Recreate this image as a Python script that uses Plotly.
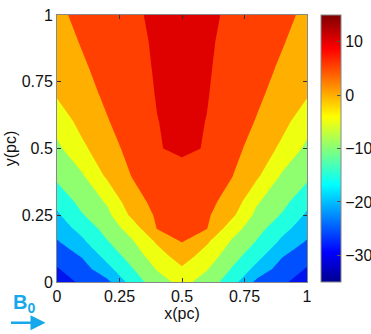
import plotly.graph_objects as go

# grid of the filled-contour map (pc)
x_pc = [0.0, 0.1, 0.2, 0.3, 0.4, 0.5, 0.6, 0.7, 0.8, 0.9, 1.0]
y_pc = [0.0, 0.05, 0.1, 0.15, 0.2, 0.25, 0.3, 0.4, 0.5, 0.6, 0.7, 0.8, 0.9, 1.0]

# field values, one row per y_pc (bottom to top)
field = [
    [-27.0, -24.3, -21.3, -12.9, -7.1, -3.5, -7.1, -12.9, -21.3, -24.3, -27.0],
    [-25.3, -22.1, -16.5, -10.3, -4.6, -0.6, -4.6, -10.3, -16.5, -22.1, -25.3],
    [-23.0, -19.5, -13.1, -7.7, -2.2, 2.7, -2.2, -7.7, -13.1, -19.5, -23.0],
    [-20.5, -16.0, -10.4, -5.6, 0.6, 5.1, 0.6, -5.6, -10.4, -16.0, -20.5],
    [-17.7, -13.4, -8.1, -2.8, 5.1, 6.5, 5.1, -2.8, -8.1, -13.4, -17.7],
    [-15.8, -10.4, -6.3, 1.0, 5.7, 7.4, 5.7, 1.0, -6.3, -10.4, -15.8],
    [-13.7, -8.4, -4.5, 3.1, 6.3, 8.2, 6.3, 3.1, -4.5, -8.4, -13.7],
    [-8.6, -5.5, 0.9, 5.2, 7.3, 9.4, 7.3, 5.2, 0.9, -5.5, -8.6],
    [-6.1, -1.0, 3.1, 6.5, 9.9, 10.3, 9.9, 6.5, 3.1, -1.0, -6.1],
    [-2.9, 1.5, 4.7, 7.3, 9.9, 11.1, 9.9, 7.3, 4.7, 1.5, -2.9],
    [0.4, 3.2, 5.8, 8.0, 10.2, 11.9, 10.2, 8.0, 5.8, 3.2, 0.4],
    [1.9, 4.4, 6.5, 8.5, 10.4, 12.7, 10.4, 8.5, 6.5, 4.4, 1.9],
    [3.2, 5.3, 7.1, 8.8, 10.6, 13.5, 10.6, 8.8, 7.1, 5.3, 3.2],
    [4.2, 6.0, 7.6, 9.2, 10.9, 14.3, 10.9, 9.2, 7.6, 6.0, 4.2],
]

level_start, level_end, level_step = -30, 15, 5
cbar_min, cbar_max = -35, 15
cbar_ticks = [-30, -20, -10, 0, 10]
axis_ticks = [0, 0.25, 0.5, 0.75, 1]
axis_ticktext = ["0", "0.25", "0.5", "0.75", "1"]

# jet colours of each band, lowest first (band below -30 never shows)
band_colors = [
    "rgb(0,0,175)", "rgb(0,20,240)", "rgb(0,80,255)", "rgb(0,191,255)",
    "rgb(32,255,223)", "rgb(143,255,112)", "rgb(239,255,16)",
    "rgb(255,175,0)", "rgb(255,64,0)", "rgb(223,0,0)",
]
jet = [
    [0.0, "rgb(0,0,143)"], [0.111, "rgb(0,0,255)"], [0.365, "rgb(0,255,255)"],
    [0.619, "rgb(255,255,0)"], [0.873, "rgb(255,0,0)"], [1.0, "rgb(128,0,0)"],
]

n = len(band_colors)
step_scale = []
for i, c in enumerate(band_colors):
    step_scale.append([i / n, c])
    step_scale.append([(i + 1) / n, c])

FONT = "Liberation Sans, Arial, sans-serif"
B_COLOR = "#16a8ea"

fig = go.Figure()
fig.add_trace(go.Contour(
    x=x_pc, y=y_pc, z=field,
    colorscale=step_scale, showscale=False,
    contours=dict(start=level_start, end=level_end, size=level_step,
                  coloring="fill", showlines=False),
    line=dict(width=0, smoothing=0),
    hoverinfo="skip",
))
# continuous jet colour bar, as in the original
fig.add_trace(go.Scatter(
    x=[None], y=[None], mode="markers", showlegend=False, hoverinfo="skip",
    marker=dict(color=[0], cmin=cbar_min, cmax=cbar_max, colorscale=jet,
                showscale=True,
                colorbar=dict(x=1.055, xanchor="left", xpad=0, ypad=0,
                              y=0.5, yanchor="middle", len=1,
                              thickness=20, outlinecolor="#888",
                              outlinewidth=1, tickvals=cbar_ticks,
                              ticks="inside", ticklen=4, tickcolor="#555",
                              tickfont=dict(size=16, color="#111"))),
))

axis_style = dict(
    range=[0, 1], tickvals=axis_ticks, ticktext=axis_ticktext,
    ticks="inside", ticklen=4, tickcolor="#333", showgrid=False,
    zeroline=False, showline=True, linecolor="#888", linewidth=1,
    mirror="ticks", tickfont=dict(size=16, color="#111"), automargin=False,
)
fig.update_xaxes(**axis_style, title=dict(text="x(pc)", standoff=0,
                                          font=dict(size=16, color="#111")))
fig.update_yaxes(**axis_style, title=dict(text="y(pc)", standoff=1,
                                          font=dict(size=16, color="#111")))

fig.add_annotation(text="<b>B<sub>0</sub></b>", xref="paper", yref="paper",
                   x=-0.186, y=-0.082, xanchor="left", yanchor="middle",
                   showarrow=False, font=dict(size=20, color=B_COLOR))
fig.add_annotation(text="", xref="paper", yref="paper", x=-0.046, y=-0.153,
                   ax=-36, ay=0, showarrow=True, arrowhead=2, arrowsize=1.2,
                   arrowwidth=2.5, arrowcolor=B_COLOR)

fig.update_layout(
    width=371, height=334,
    margin=dict(l=57, r=64, t=15, b=52, autoexpand=False),
    paper_bgcolor="white", plot_bgcolor="white",
    font=dict(family=FONT, size=16, color="#111"),
    showlegend=False,
)

fig.write_html("out.html", config={"displayModeBar": False},
               post_script="document.body.style.margin='0px';")
